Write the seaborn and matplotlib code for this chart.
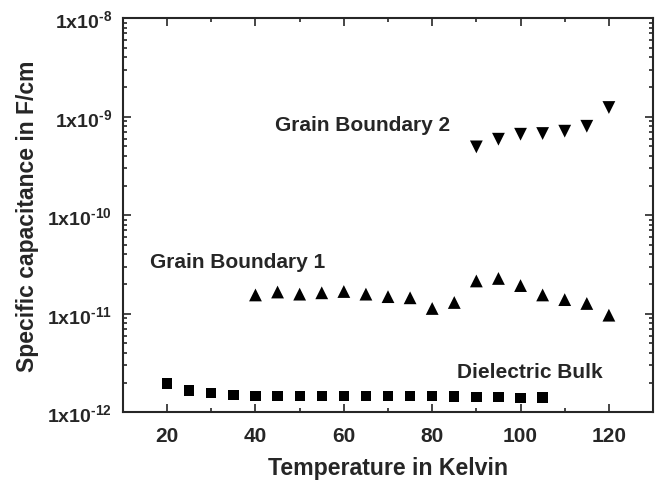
import math
import matplotlib
matplotlib.use('Agg')
import matplotlib.pyplot as plt
import matplotlib.ticker as mticker
import seaborn as sns
import pandas as pd

bulk_temp = [20, 25, 30, 35, 40, 45, 50, 55, 60, 65, 70, 75, 80, 85, 90, 95, 100, 105]
bulk_cap = [1.96e-12, 1.66e-12, 1.56e-12, 1.49e-12, 1.45e-12, 1.45e-12, 1.45e-12, 1.45e-12,
            1.45e-12, 1.45e-12, 1.45e-12, 1.45e-12, 1.45e-12, 1.44e-12, 1.43e-12, 1.42e-12,
            1.40e-12, 1.41e-12]

gb1_temp = [40, 45, 50, 55, 60, 65, 70, 75, 80, 85, 90, 95, 100, 105, 110, 115, 120]
gb1_cap = [1.55e-11, 1.66e-11, 1.58e-11, 1.63e-11, 1.68e-11, 1.58e-11, 1.49e-11, 1.45e-11,
           1.13e-11, 1.30e-11, 2.15e-11, 2.28e-11, 1.93e-11, 1.55e-11, 1.39e-11, 1.27e-11, 9.66e-12]

gb2_temp = [90, 95, 100, 105, 110, 115, 120]
gb2_cap = [4.94e-10, 5.91e-10, 6.64e-10, 6.75e-10, 7.13e-10, 8.0e-10, 1.24e-9]

series_names = ['Dielectric Bulk', 'Grain Boundary 1', 'Grain Boundary 2']
y_ticks = [1e-12, 1e-11, 1e-10, 1e-9, 1e-8]

df = pd.concat([
    pd.DataFrame({'T': bulk_temp, 'C': bulk_cap, 'series': series_names[0]}),
    pd.DataFrame({'T': gb1_temp, 'C': gb1_cap, 'series': series_names[1]}),
    pd.DataFrame({'T': gb2_temp, 'C': gb2_cap, 'series': series_names[2]}),
])

sns.set_style('ticks')
plt.rcParams['font.family'] = ['Liberation Sans', 'DejaVu Sans']
plt.rcParams['font.weight'] = 'bold'
plt.rcParams['mathtext.default'] = 'regular'
plt.rcParams['xtick.direction'] = 'in'
plt.rcParams['ytick.direction'] = 'in'

fig = plt.figure(figsize=(6.61, 4.81), dpi=100)
ax = fig.add_axes([0.186, 0.141, 0.802, 0.819])

sizes_map = {series_names[0]: 55, series_names[1]: 85, series_names[2]: 85}
markers = {series_names[0]: 's', series_names[1]: '^', series_names[2]: 'v'}
for name in series_names:
    sub = df[df['series'] == name]
    sns.scatterplot(data=sub, x='T', y='C', marker=markers[name], color='black',
                    s=sizes_map[name], edgecolor='none', ax=ax, legend=False)

ax.set_yscale('log')
ax.set_xlim(10, 130)
ax.set_ylim(1e-12, 1e-8)

ax.xaxis.set_major_locator(mticker.MultipleLocator(20))
ax.xaxis.set_minor_locator(mticker.MultipleLocator(10))
ax.yaxis.set_major_locator(mticker.FixedLocator(y_ticks))
ax.yaxis.set_minor_locator(mticker.LogLocator(base=10, subs=range(2, 10), numticks=20))
ax.yaxis.set_minor_formatter(mticker.NullFormatter())


def log_fmt(v, pos):
    exp = int(round(math.log10(v)))
    # hyphen instead of the wide mathtext minus, like the original
    return '1x10$^{\u2010%d}$' % abs(exp)


ax.yaxis.set_major_formatter(mticker.FuncFormatter(log_fmt))

ax.tick_params(which='both', top=True, right=True, width=1.2)
ax.tick_params(which='major', length=6, labelsize=15)
ax.tick_params(which='minor', length=3)
ax.tick_params(axis='x', which='major', pad=10)
ax.tick_params(axis='y', which='major', pad=8, labelsize=14)
for lab in ax.get_xticklabels() + ax.get_yticklabels():
    lab.set_fontweight('bold')
for sp in ax.spines.values():
    sp.set_linewidth(1.5)

ax.set_xlabel('Temperature in Kelvin', fontsize=16.7, fontweight='bold', labelpad=8)
ax.set_ylabel('Specific capacitance in F/cm', fontsize=16.5, fontweight='bold', labelpad=6)

ax.text(64.3, 8.4e-10, 'Grain Boundary 2', fontsize=15, fontweight='bold', ha='center', va='center')
ax.text(36, 3.4e-11, 'Grain Boundary 1', fontsize=15, fontweight='bold', ha='center', va='center')
ax.text(102, 2.6e-12, 'Dielectric Bulk', fontsize=15, fontweight='bold', ha='center', va='center')

fig.savefig('out.png', dpi=100)
